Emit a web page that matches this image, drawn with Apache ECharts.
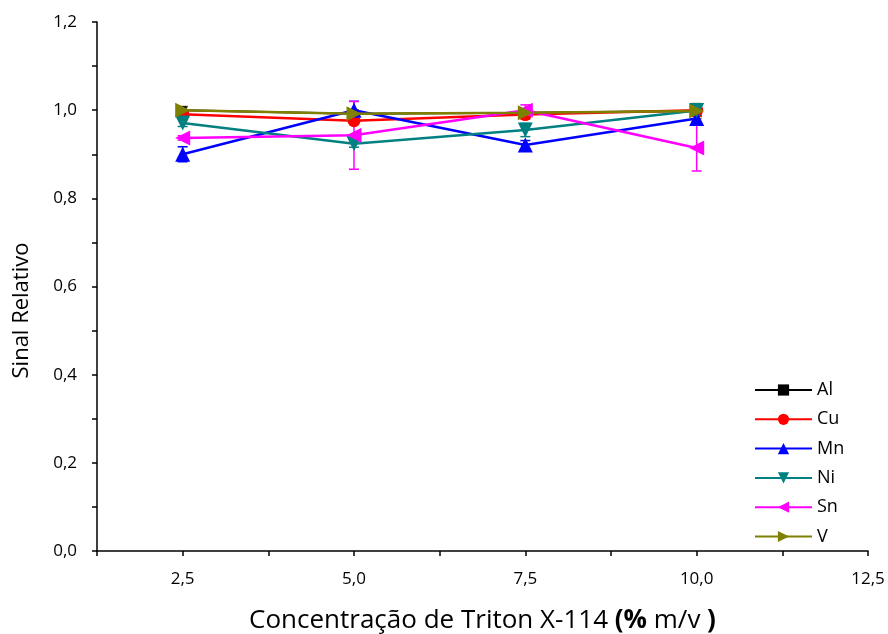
<!DOCTYPE html>
<html>
<head>
<meta charset="utf-8">
<script src="https://cdn.jsdelivr.net/npm/echarts@6/dist/echarts.min.js"></script>
<style>
  html, body { margin: 0; padding: 0; background: #fff; }
  #chart { width: 888px; height: 634px; }
</style>
</head>
<body>
<div id="chart"></div>
<script>
// Triton X-114 concentration (% m/v)
const concentrations = [2.5, 5.0, 7.5, 10.0];

// Relative signal per element
const alValues = [1.000, 0.992, 0.994, 0.998];
const cuValues = [0.991, 0.976, 0.990, 1.000];
const mnValues = [0.900, 1.000, 0.921, 0.981];
const niValues = [0.971, 0.924, 0.955, 0.999];
const snValues = [0.937, 0.943, 1.000, 0.914];
const vValues  = [1.000, 0.992, 0.994, 0.998];

// Standard deviations
const alErrors = [0.008, 0.008, 0.008, 0.010];
const cuErrors = [0.005, 0.008, 0.010, 0.014];
const mnErrors = [0.017, 0.020, 0.010, 0.015];
const niErrors = [0.008, 0.008, 0.015, 0.010];
const snErrors = [0.005, 0.077, 0.012, 0.052];
const vErrors  = [0.008, 0.008, 0.008, 0.017];

const elements = [
  { name: 'Al', values: alValues, errors: alErrors, color: '#000000', symbol: 'rect', rotate: 0, size: 8, width: 2 },
  { name: 'Cu', values: cuValues, errors: cuErrors, color: '#ff0000', symbol: 'circle', rotate: 0, size: 13, width: 2.5 },
  { name: 'Mn', values: mnValues, errors: mnErrors, color: '#0000ff', symbol: 'triangle', rotate: 0, size: 15, width: 2.5 },
  { name: 'Ni', values: niValues, errors: niErrors, color: '#008080', symbol: 'triangle', rotate: 180, size: 15, width: 2.5 },
  { name: 'Sn', values: snValues, errors: snErrors, color: '#ff00ff', symbol: 'triangle', rotate: 90, size: 15, width: 2.5 },
  { name: 'V',  values: vValues,  errors: vErrors,  color: '#808000', symbol: 'triangle', rotate: -90, size: 15, width: 2.5 }
];

const fontFamily = '"Open Sans", "Noto Sans", sans-serif';

function errorBarSeries(el) {
  return {
    type: 'custom',
    name: el.name + ' err',
    z: 3,
    silent: true,
    data: concentrations.map((c, i) => [c, el.values[i] - el.errors[i], el.values[i] + el.errors[i]]),
    renderItem: function (params, api) {
      const lo = api.coord([api.value(0), api.value(1)]);
      const hi = api.coord([api.value(0), api.value(2)]);
      const w = 5;
      const style = { stroke: el.color, lineWidth: 1.5 };
      return {
        type: 'group',
        children: [
          { type: 'line', shape: { x1: lo[0], y1: lo[1], x2: hi[0], y2: hi[1] }, style: style },
          { type: 'line', shape: { x1: lo[0] - w, y1: lo[1], x2: lo[0] + w, y2: lo[1] }, style: style },
          { type: 'line', shape: { x1: hi[0] - w, y1: hi[1], x2: hi[0] + w, y2: hi[1] }, style: style }
        ]
      };
    }
  };
}

const series = [];
elements.forEach(el => {
  series.push(errorBarSeries(el));
  series.push({
    type: 'line',
    name: el.name,
    data: concentrations.map((c, i) => [c, el.values[i]]),
    symbol: el.symbol,
    symbolRotate: el.rotate,
    symbolSize: el.size,
    showAllSymbol: true,
    z: 4,
    lineStyle: { color: el.color, width: el.width },
    itemStyle: { color: el.color },
    emphasis: { disabled: true }
  });
});

const chart = echarts.init(document.getElementById('chart'), null, { renderer: 'canvas' });
chart.setOption({
  animation: false,
  backgroundColor: '#ffffff',
  grid: { left: 97, right: 20, top: 22, bottom: 83, containLabel: false, outerBoundsMode: 'none' },
  legend: {
    data: elements.map(e => e.name),
    orient: 'vertical',
    left: 749,
    top: 376,
    itemWidth: 57,
    itemHeight: 14,
    itemGap: 11.3,
    textStyle: { fontFamily: fontFamily, fontSize: 18, color: '#000' },
    selectedMode: false
  },
  xAxis: {
    type: 'value',
    min: 1.25,
    max: 12.5,
    interval: 1.25,
    name: '{n|Concentração de Triton X-114 }{b|(%}{n| m/v }{b|)}',
    nameLocation: 'middle',
    nameGap: 57,
    nameTextStyle: {
      rich: {
        n: { fontFamily: fontFamily, fontSize: 26, color: '#000' },
        b: { fontFamily: fontFamily, fontSize: 26, fontWeight: 'bold', color: '#000' }
      }
    },
    axisLine: { onZero: false, lineStyle: { color: '#000', width: 1.5 } },
    axisTick: { show: true, inside: false, length: 5, lineStyle: { color: '#000', width: 1.5 } },
    axisLabel: {
      fontFamily: fontFamily,
      fontSize: 17,
      color: '#000',
      margin: 20,
      formatter: v => (Math.round(v / 1.25) % 2 === 0 ? v.toFixed(1).replace('.', ',') : '')
    },
    splitLine: { show: false }
  },
  yAxis: {
    type: 'value',
    min: 0,
    max: 1.2,
    interval: 0.1,
    name: 'Sinal Relativo',
    nameLocation: 'middle',
    nameGap: 64,
    nameTextStyle: { fontFamily: fontFamily, fontSize: 22, color: '#000', padding: [0, 48, 0, 0] },
    axisLine: { show: true, onZero: false, lineStyle: { color: '#000', width: 1.5 } },
    axisTick: { show: true, inside: false, length: 5, lineStyle: { color: '#000', width: 1.5 } },
    axisLabel: {
      fontFamily: fontFamily,
      fontSize: 17,
      color: '#000',
      margin: 20,
      formatter: v => (Math.round(v * 10) % 2 === 0 ? v.toFixed(1).replace('.', ',') : '')
    },
    splitLine: { show: false }
  },
  series: series
});
</script>
</body>
</html>
